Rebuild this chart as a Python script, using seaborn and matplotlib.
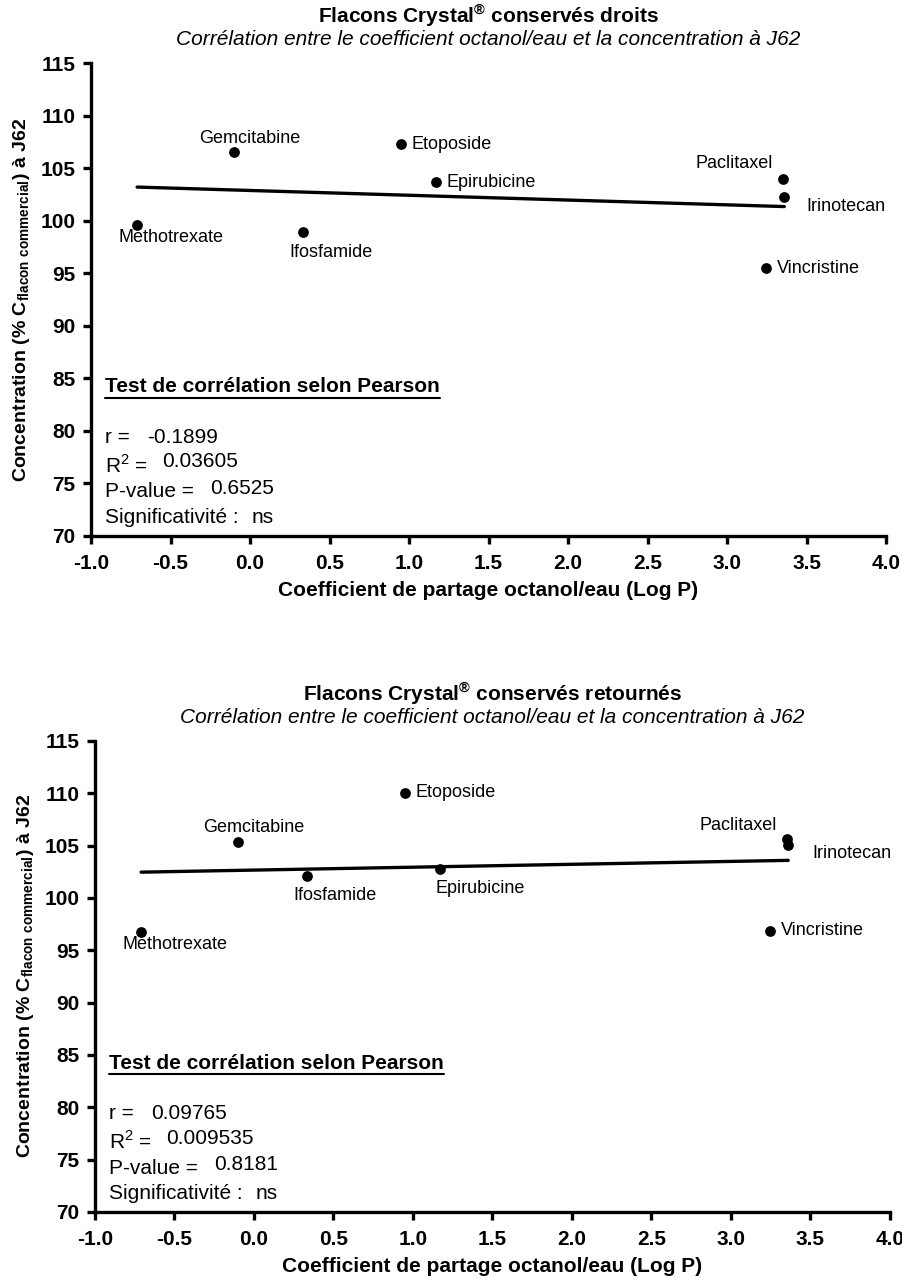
import matplotlib
matplotlib.use("Agg")
import matplotlib.pyplot as plt
import pandas as pd
import seaborn as sns

# values
drugs = ["Methotrexate", "Gemcitabine", "Ifosfamide", "Etoposide",
         "Epirubicine", "Paclitaxel", "Irinotecan", "Vincristine"]
log_p = [-0.71, -0.10, 0.335, 0.95, 1.17, 3.35, 3.36, 3.245]
conc_droits = [99.6, 106.5, 98.9, 107.25, 103.65, 104.0, 102.3, 95.5]
conc_retournes = [96.76, 105.3, 102.1, 110.07, 102.75, 105.6, 105.05, 96.86]

stats_droits = ["-0.1899", "0.03605", "0.6525", "ns"]
stats_retournes = ["0.09765", "0.009535", "0.8181", "ns"]

titles = ["Flacons Crystal$^{\\mathregular{®}}$ conservés droits",
          "Flacons Crystal$^{\\mathregular{®}}$ conservés retournés"]
subtitle = "Corrélation entre le coefficient octanol/eau et la concentration à J62"
xlabel = "Coefficient de partage octanol/eau (Log P)"
ylabel = "Concentration (% C$_{\\mathregular{flacon\\ commercial}}$) à J62"
x_ticks = [-1.0, -0.5, 0.0, 0.5, 1.0, 1.5, 2.0, 2.5, 3.0, 3.5, 4.0]
y_ticks = [70, 75, 80, 85, 90, 95, 100, 105, 110, 115]

# label offsets in pixels (dx, dy) from each point
offsets_droits = {
    "Methotrexate": (-19, -13), "Gemcitabine": (-35, 14), "Ifosfamide": (-14, -20),
    "Etoposide": (10, 0), "Epirubicine": (10, 0), "Paclitaxel": (-87, 15),
    "Irinotecan": (22, -10), "Vincristine": (11, -1),
}
offsets_retournes = {
    "Methotrexate": (-19, -13), "Gemcitabine": (-35, 15), "Ifosfamide": (-14, -20),
    "Etoposide": (10, 0), "Epirubicine": (-5, -19), "Paclitaxel": (-87, 14),
    "Irinotecan": (24, -8), "Vincristine": (11, 0),
}

sns.set_theme(style="ticks")
plt.rcParams["font.family"] = ["Liberation Sans", "DejaVu Sans"]
plt.rcParams["mathtext.fontset"] = "custom"
plt.rcParams["mathtext.rm"] = "Liberation Sans"
plt.rcParams["axes.unicode_minus"] = False
for key in ["text.color", "axes.labelcolor", "xtick.color", "ytick.color", "axes.edgecolor"]:
    plt.rcParams[key] = "black"

fig = plt.figure(figsize=(9.03, 12.81), dpi=100)
ax_top = fig.add_axes([0.1008, 0.5816, 0.8804, 0.3692])
ax_bot = fig.add_axes([0.1052, 0.0539, 0.8804, 0.3677])

panels = [
    (ax_top, conc_droits, stats_droits, offsets_droits, titles[0]),
    (ax_bot, conc_retournes, stats_retournes, offsets_retournes, titles[1]),
]

headers = []
for ax, conc, stats, offsets, title in panels:
    df = pd.DataFrame({"drug": drugs, "logp": log_p, "conc": conc})
    sns.regplot(data=df, x="logp", y="conc", ax=ax, ci=None, truncate=True,
                color="black", scatter_kws={"s": 60, "linewidths": 0, "alpha": 1},
                line_kws={"lw": 2.4})
    for _, row in df.iterrows():
        dx, dy = offsets[row["drug"]]
        ax.annotate(row["drug"], (row["logp"], row["conc"]), xytext=(dx, dy),
                    textcoords="offset pixels", ha="left", va="center", fontsize=13)

    ax.set_xlim(-1.0, 4.0)
    ax.set_ylim(70, 115)
    ax.set_xticks(x_ticks)
    ax.set_xticklabels([f"{t:.1f}" for t in x_ticks], fontweight="bold", fontsize=15)
    ax.set_yticks(y_ticks)
    ax.set_yticklabels([str(t) for t in y_ticks], fontweight="bold", fontsize=15)
    ax.tick_params(axis="both", length=6, width=2.4, color="black", pad=5)
    ax.tick_params(axis="x", pad=7)
    sns.despine(ax=ax)
    for side in ["left", "bottom"]:
        ax.spines[side].set_linewidth(2.4)
    ax.set_xlabel(xlabel, fontweight="bold", fontsize=15, labelpad=6)
    ax.set_ylabel(ylabel, fontweight="bold", fontsize=14, labelpad=6)

    ax.text(0.5, 1.101, title, transform=ax.transAxes, ha="center", va="center",
            fontweight="bold", fontsize=15)
    ax.text(0.5, 1.050, subtitle, transform=ax.transAxes, ha="center", va="center",
            style="italic", fontsize=15)

    # Pearson box
    h = ax.text(0.018, 0.315, "Test de corrélation selon Pearson", transform=ax.transAxes,
                ha="left", va="center", fontweight="bold", fontsize=15)
    headers.append((ax, h))
    labels = ["r =", "R$^{\\mathregular{2}}$ =", "P-value =", "Significativité :"]
    label_y = [0.209, 0.150, 0.093, 0.039]
    value_x = [0.070, 0.089, 0.150, 0.2025]
    value_dy = [0.0, 0.007, 0.008, 0.0]
    for lab, ly, vx, vdy, val in zip(labels, label_y, value_x, value_dy, stats):
        ax.text(0.018, ly, lab, transform=ax.transAxes, ha="left", va="center", fontsize=15)
        ax.text(vx, ly + vdy, val, transform=ax.transAxes, ha="left", va="center", fontsize=15)

# underline the Pearson headers
fig.canvas.draw()
renderer = fig.canvas.get_renderer()
for ax, h in headers:
    bb = h.get_window_extent(renderer).transformed(ax.transAxes.inverted())
    ax.plot([bb.x0, bb.x1], [bb.y0 - 0.003, bb.y0 - 0.003], transform=ax.transAxes,
            color="black", lw=1.5, clip_on=False)

fig.savefig("out.png", dpi=100)
